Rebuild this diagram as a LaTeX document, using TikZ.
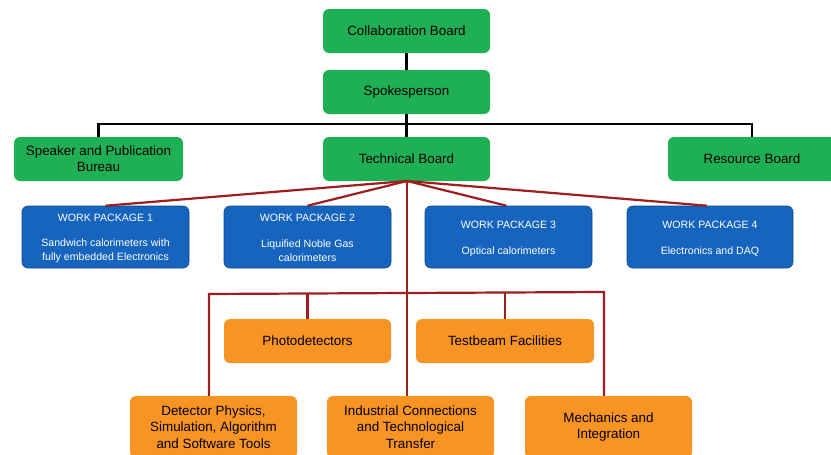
\documentclass[tikz,border=0pt]{standalone}
\usepackage{fontspec}
\setmainfont{Liberation Sans}
\definecolor{boxgreen}{RGB}{31,176,86}
\definecolor{boxblue}{RGB}{22,100,190}
\definecolor{boxorange}{RGB}{248,148,36}
\definecolor{linered}{RGB}{158,30,30}
\begin{document}
\begin{tikzpicture}[x=1pt,y=-1pt,
  gbox/.style={fill=boxgreen,rounded corners=6pt,minimum width=167pt,minimum height=44pt,
    align=center,font=\fontsize{13.4}{16}\selectfont,inner sep=0pt},
  bbox/.style={fill=boxblue,rounded corners=6pt,minimum width=167pt,minimum height=62pt,draw=boxblue!70!black,line width=0.6pt},
  wptext/.style={text=white,align=center,font=\fontsize{10.6}{14}\selectfont,inner sep=0pt},
  obox/.style={fill=boxorange,rounded corners=6pt,minimum width=167pt,minimum height=44pt,
    align=center,font=\fontsize{13.4}{16.7}\selectfont,inner sep=0pt},
  blkline/.style={draw=black,line width=2.2pt},
  redline/.style={draw=linered,line width=2.2pt}]
\useasboundingbox (0,0) rectangle (831,455);
% green boxes
\node[gbox] (cb) at (406.5,31) {Collaboration Board};
\node[gbox] (sp) at (406.5,92) {Spokesperson};
\node[gbox,minimum width=169pt] (spb) at (98.5,159) {Speaker and Publication\\Bureau};
\node[gbox] (tb) at (406.5,159) {Technical Board};
\node[gbox,minimum width=168pt] (rb) at (752,159) {Resource Board};
% black connectors
\coordinate (hb) at (406.5,124);
\draw[blkline] (cb) -- (sp);
\draw[blkline] (sp) -- (tb);
\draw[blkline] (spb.north) |- (hb) -| (rb.north);
% work packages
\node[bbox] (wp1) at (105.5,237) {};
\node[bbox] (wp2) at (307.5,237) {};
\node[bbox] (wp3) at (508.5,237) {};
\node[bbox,minimum width=166pt] (wp4) at (710,237) {};
\node[wptext] (wp1t) at (105.5,218) {WORK PACKAGE 1};
\node[wptext] (wp1b) at (105.5,251) {Sandwich calorimeters with\\fully embedded Electronics};
\node[wptext] (wp2t) at (307.5,218) {WORK PACKAGE 2};
\node[wptext] (wp2b) at (307.5,251) {Liquified Noble Gas\\calorimeters};
\node[wptext] (wp3t) at (508.5,225) {WORK PACKAGE 3};
\node[wptext] (wp3b) at (508.5,252) {Optical calorimeters};
\node[wptext] (wp4t) at (710,225) {WORK PACKAGE 4};
\node[wptext] (wp4b) at (710,252) {Electronics and DAQ};
% orange boxes
\node[obox] (pd) at (307.5,341) {Photodetectors};
\node[obox,minimum width=178pt] (tf) at (505,341) {Testbeam Facilities};
\node[obox,minimum height=62pt] (dp) at (213.5,427) {Detector Physics,\\Simulation, Algorithm\\and Software Tools};
\node[obox,minimum height=62pt] (ic) at (410.5,427) {Industrial Connections\\and Technological\\Transfer};
\node[obox,minimum height=62pt] (mi) at (608.5,427) {Mechanics and\\Integration};
% red connectors
\coordinate (tbs) at (407,181);
\draw[redline] (tbs) -- (wp1.north);
\draw[redline] (tbs) -- (wp2.north);
\draw[redline] (tbs) -- ([xshift=-2pt]wp3.north);
\draw[redline] (tbs) -- ([xshift=-3pt]wp4.north);
\coordinate (barL) at (209,294);
\coordinate (barR) at (604,292);
\draw[redline] (tbs) -- (tbs|-ic.north);
\draw[redline] (barL|-dp.north) -- (barL) -- (barR) -- (barR|-mi.north);
\draw[redline] (pd.north) -- (pd.north|-barL);
\draw[redline] (tf.north) -- (tf.north|-barR);
\end{tikzpicture}
\end{document}
